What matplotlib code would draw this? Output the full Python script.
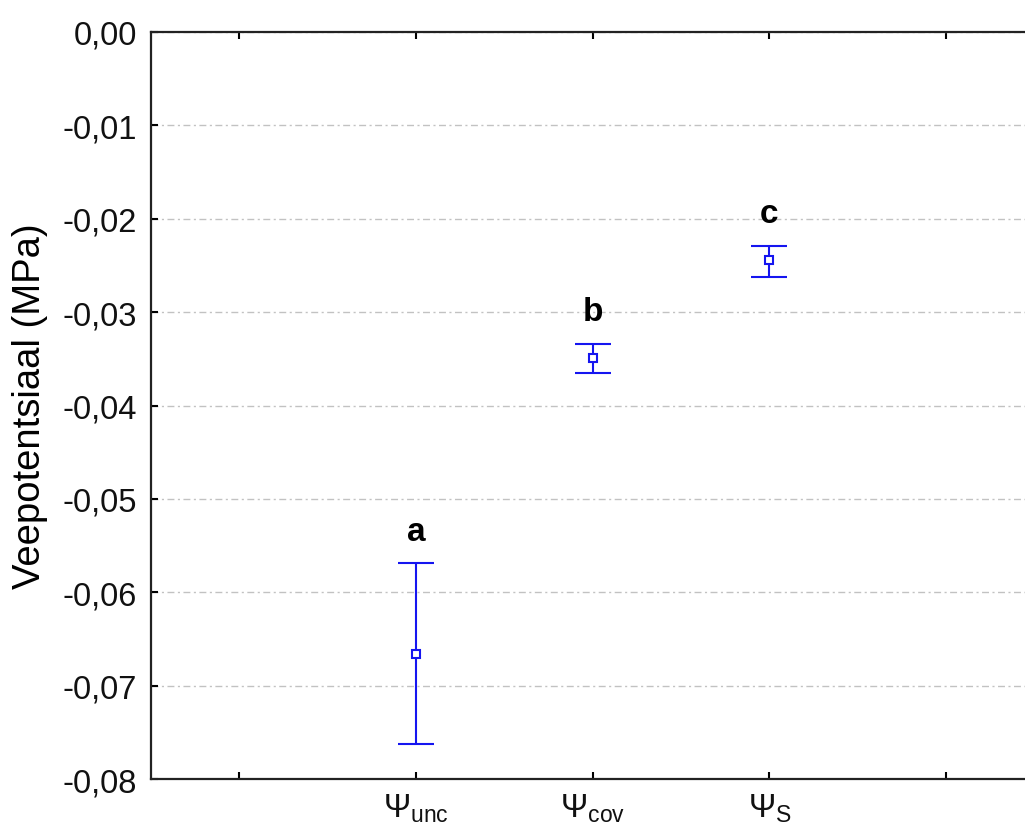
"""Water potential by treatment, means with error bars and group letters."""

import numpy as np
import matplotlib
matplotlib.use("Agg")
import matplotlib.pyplot as plt
from matplotlib.ticker import FuncFormatter

# values (MPa)
categories = [r"Ψ$_{\mathrm{unc}}$", r"Ψ$_{\mathrm{cov}}$", r"Ψ$_{\mathrm{S}}$"]
means = [-0.0666, -0.0349, -0.0244]
lower = [-0.0762, -0.0365, -0.0262]
upper = [-0.0569, -0.0334, -0.0229]
letters = ["a", "b", "c"]
y_ticks = [0.0, -0.01, -0.02, -0.03, -0.04, -0.05, -0.06, -0.07, -0.08]

BLUE = "#1515f0"

plt.rcParams["font.family"] = ["Liberation Sans", "DejaVu Sans"]
plt.rcParams["mathtext.fontset"] = "custom"
plt.rcParams["mathtext.rm"] = "Liberation Sans"


def plot():
    fig = plt.figure(figsize=(10.25, 8.29), dpi=100)
    ax = fig.add_axes([0.1473, 0.0591, 0.862, 0.9011])

    x = np.arange(2, 2 + len(means))
    means_arr = np.array(means)
    yerr = np.vstack([means_arr - np.array(lower), np.array(upper) - means_arr])

    ax.errorbar(x, means_arr, yerr=yerr, fmt="s", color=BLUE, ecolor=BLUE,
                elinewidth=1.5, capsize=13, capthick=1.5,
                markersize=6, markerfacecolor="white", markeredgecolor=BLUE,
                markeredgewidth=1.5, zorder=3)

    # significance letters above each upper whisker
    for xi, up, lab in zip(x, upper, letters):
        ax.annotate(lab, (xi, up), xytext=(0, 12), textcoords="offset points",
                    ha="center", va="bottom", fontsize=24, fontweight="bold")

    ax.set_xlim(0.5, 5.5)
    ax.set_ylim(-0.08, 0.0)
    ax.set_xticks([1, 2, 3, 4, 5])
    ax.set_xticklabels([""] + categories + [""])
    ax.set_yticks(y_ticks)
    ax.yaxis.set_major_formatter(
        FuncFormatter(lambda v, _: f"{v:.2f}".replace(".", ",").replace("-0,00", "0,00")))

    ax.tick_params(axis="both", direction="in", length=5, width=1.5,
                   labelsize=23.5, top=True, right=True, labelcolor="#111111")
    ax.tick_params(axis="y", pad=10)
    ax.tick_params(axis="x", pad=9)

    ax.grid(axis="y", linestyle=(0, (5, 2.5, 1.5, 2.5)), color="#c2c2c2", linewidth=1)
    ax.set_axisbelow(True)
    for sp in ax.spines.values():
        sp.set_linewidth(1.6)
        sp.set_color("#222222")

    ax.set_ylabel("Veepotentsiaal (MPa)", fontsize=27.5, va="center")
    ax.yaxis.set_label_coords(-0.137, 0.5)

    fig.savefig("out.png", dpi=100)
    plt.close(fig)


if __name__ == "__main__":
    plot()
